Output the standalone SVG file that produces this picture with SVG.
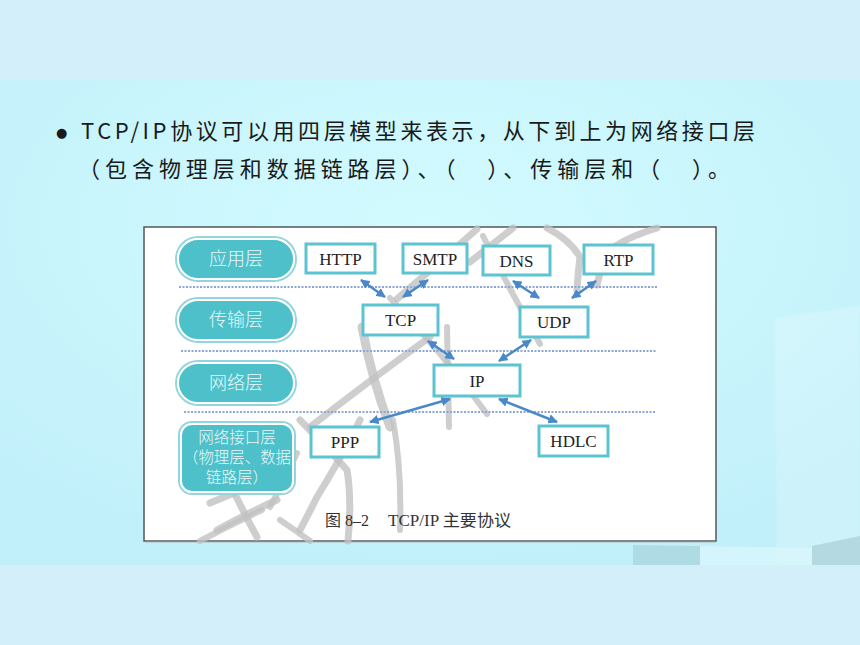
<svg xmlns="http://www.w3.org/2000/svg" width="860" height="645" viewBox="0 0 860 645">
<defs>
<radialGradient id="bg" cx="0.5" cy="0.3" r="0.7">
<stop offset="0" stop-color="#d2fbff"/>
<stop offset="1" stop-color="#c2f0fa"/>
</radialGradient>
<marker id="ah" viewBox="0 0 10 10" refX="9" refY="5" markerWidth="3.8" markerHeight="3.8" orient="auto-start-reverse" markerUnits="strokeWidth">
<path d="M0,0 L10,5 L0,10 z" fill="#4a88c9"/>
</marker>
</defs>
<style>
.pill{fill:#4ec0c9;stroke:#ffffff;stroke-width:2}
.pillo{fill:none;stroke:#93d5dc;stroke-width:2}
.pt{font-family:"Noto Sans CJK SC","Noto Sans",sans-serif;font-weight:300;font-size:18px;fill:#eaf8f9;text-anchor:middle}
.pt2{font-family:"Noto Sans CJK SC","Noto Sans",sans-serif;font-weight:300;font-size:15.5px;fill:#eaf8f9;text-anchor:middle}
.box{fill:#ffffff;stroke:#5cc4d0;stroke-width:3}
.bt{font-family:"Liberation Serif","Noto Sans CJK SC",serif;font-size:17px;fill:#222222;text-anchor:middle}
.cap{font-family:"Liberation Serif","Noto Sans CJK SC",serif;font-size:16px;fill:#333333}
.dash{stroke:#8aa6d8;stroke-width:2;stroke-dasharray:2 1.5;fill:none}
.arr{stroke:#4a88c9;stroke-width:2.5;fill:none;marker-start:url(#ah);marker-end:url(#ah)}
.hd{font-family:"Noto Sans CJK SC","Noto Sans",sans-serif;font-size:22px;fill:#1a1a1a}
.bul{font-family:"DejaVu Sans",sans-serif;font-size:13px;fill:#1a1a1a}
.wm{stroke:#c2c2c2;fill:none;stroke-linecap:round;opacity:0.8}
</style>
<rect x="0" y="0" width="860" height="645" fill="#d3eff9"/>
<rect x="0" y="80" width="860" height="485" fill="url(#bg)"/>
<polygon points="775,318 860,306 860,565 777,565" fill="#ffffff" opacity="0.18" stroke="#e6fbff" stroke-width="1.5"/>
<polygon points="633,545 700,546 700,565 633,565" fill="#a7d2da" opacity="0.7"/>
<polygon points="700,546 812,548 812,565 700,565" fill="#d8f6fb" opacity="0.8"/>
<polygon points="812,546 860,536 860,565 812,565" fill="#a9cfd6" opacity="0.7"/>

<g id="title">
<text class="bul" x="56" y="137">●</text>
<text class="hd" x="81" y="139" textLength="674" lengthAdjust="spacing">TCP/IP协议可以用四层模型来表示，从下到上为网络接口层</text>
<text class="hd" x="78" y="177" textLength="652" lengthAdjust="spacing">（包含物理层和数据链路层）、（　）、传输层和（　）。</text>
</g>

<g id="figure">
<rect x="144" y="227" width="572" height="314" fill="#ffffff" stroke="#555555" stroke-width="1.5"/>
<line x1="145" y1="541.5" x2="716" y2="541.5" stroke="#888888" stroke-width="1.5"/>
</g>

<g id="watermark">
<path class="wm" d="M477 229 Q440 262 397 299" stroke-width="7"/>
<path class="wm" d="M470 262 L513 228" stroke-width="7"/>
<path class="wm" d="M483 236 Q510 290 540 344" stroke-width="6"/>
<path class="wm" d="M547 228 Q570 240 580 257 Q578 272 577 290" stroke-width="7"/>
<path class="wm" d="M657 228 Q625 238 610 250 Q600 270 597 285" stroke-width="7"/>
<path class="wm" d="M362 327 Q372 380 390 427" stroke-width="9"/>
<path class="wm" d="M390 298 Q440 350 487 414" stroke-width="6"/>
<path class="wm" d="M430 337 Q370 380 310 427" stroke-width="7"/>
<path class="wm" d="M447 327 L449 427" stroke-width="6"/>
<path class="wm" d="M300 420 Q325 445 347 470 Q352 500 348 541" stroke-width="7"/>
<path class="wm" d="M360 420 Q340 460 317 497 Q308 515 300 530" stroke-width="7"/>
<path class="wm" d="M393 420 Q402 470 400 530" stroke-width="6"/>
<path class="wm" d="M297 453 Q285 480 270 507" stroke-width="6"/>
<path class="wm" d="M210 503 Q240 490 270 480" stroke-width="7"/>
<path class="wm" d="M217 530 Q250 512 277 500" stroke-width="7"/>
<path class="wm" d="M233 490 Q245 515 257 537" stroke-width="7"/>
<path class="wm" d="M200 541 Q230 525 262 510" stroke-width="6"/>
<path class="wm" d="M280 520 Q295 530 310 541" stroke-width="6"/>
</g>

<g id="connectors">
<line class="dash" x1="179" y1="287" x2="657" y2="287"/>
<line class="dash" x1="181" y1="351" x2="657" y2="351"/>
<line class="dash" x1="184" y1="412" x2="656" y2="412"/>
<line class="arr" x1="361" y1="280" x2="385" y2="297"/>
<line class="arr" x1="428" y1="280" x2="403" y2="297"/>
<line class="arr" x1="513" y1="281" x2="539" y2="298"/>
<line class="arr" x1="596" y1="281" x2="572" y2="298"/>
<line class="arr" x1="428" y1="341" x2="454" y2="359"/>
<line class="arr" x1="531" y1="340" x2="499" y2="361"/>
<line class="arr" x1="450" y1="399" x2="370" y2="422"/>
<line class="arr" x1="499" y1="399" x2="557" y2="422"/>
</g>

<g id="layer-app">
<rect class="pillo" x="176" y="237" width="120" height="44" rx="22"/>
<rect class="pill" x="178" y="239" width="116" height="40" rx="20"/>
<text class="pt" x="236" y="265">应用层</text>
</g>
<g id="layer-transport">
<rect class="pillo" x="176" y="298" width="120" height="44" rx="22"/>
<rect class="pill" x="178" y="300" width="116" height="40" rx="20"/>
<text class="pt" x="236" y="326">传输层</text>
</g>
<g id="layer-network">
<rect class="pillo" x="176" y="361" width="120" height="44" rx="22"/>
<rect class="pill" x="178" y="363" width="116" height="40" rx="20"/>
<text class="pt" x="236" y="389">网络层</text>
</g>
<g id="layer-link">
<rect class="pillo" x="179" y="422" width="116" height="72" rx="13"/>
<rect class="pill" x="181" y="424" width="112" height="68" rx="11"/>
<text class="pt2" x="237" y="443">网络接口层</text>
<text class="pt2" x="183" y="463" style="text-anchor:start" textLength="108" lengthAdjust="spacingAndGlyphs">（物理层、数据</text>
<text class="pt2" x="237" y="483">链路层）</text>
</g>

<g id="n-http"><rect class="box" x="306" y="244" width="69" height="29"/><text class="bt" x="340.5" y="265">HTTP</text></g>
<g id="n-smtp"><rect class="box" x="403" y="244" width="64" height="29"/><text class="bt" x="435" y="265">SMTP</text></g>
<g id="n-dns"><rect class="box" x="483" y="246" width="67" height="29"/><text class="bt" x="516.5" y="267">DNS</text></g>
<g id="n-rtp"><rect class="box" x="584" y="245" width="69" height="29"/><text class="bt" x="618.5" y="266">RTP</text></g>
<g id="n-tcp"><rect class="box" x="363" y="305" width="75" height="30"/><text class="bt" x="400.5" y="326">TCP</text></g>
<g id="n-udp"><rect class="box" x="520" y="307" width="68" height="30"/><text class="bt" x="554" y="328">UDP</text></g>
<g id="n-ip"><rect class="box" x="434" y="365" width="86" height="31"/><text class="bt" x="477" y="387">IP</text></g>
<g id="n-ppp"><rect class="box" x="311" y="427" width="68" height="30"/><text class="bt" x="345" y="448">PPP</text></g>
<g id="n-hdlc"><rect class="box" x="539" y="426" width="69" height="30"/><text class="bt" x="573.5" y="447">HDLC</text></g>

<g id="caption">
<text class="cap" x="325" y="526">图 8–2</text>
<text class="cap" x="388" y="526" textLength="123" lengthAdjust="spacingAndGlyphs">TCP/IP 主要协议</text>
</g>
</svg>
